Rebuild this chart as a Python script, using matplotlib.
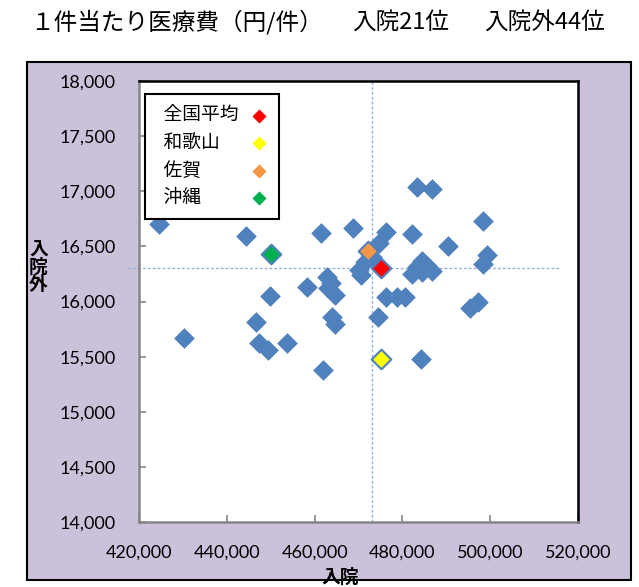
import matplotlib
matplotlib.use("Agg")
import matplotlib.pyplot as plt
from matplotlib.patches import Rectangle
from matplotlib.ticker import FuncFormatter

# colours (Excel 2007 palette)
blue = '#4F81BD'
purple_bg = '#CCC1DA'
avg_line = '#95B3D7'

# 1件当たり医療費: x = 入院, y = 入院外 (円/件), 47 prefectures
nyuin = [424600, 430250, 444400, 450100, 449850, 446650, 447350, 449400,
         453700, 458250, 461450, 461900, 462800, 463050, 464650, 463950,
         464650, 468750, 470100, 470550, 472150, 473050, 474650, 476250,
         474450, 475100, 476250, 478750, 480600, 482200, 482200, 483300,
         484250, 484450, 484450, 486750, 486750, 490400, 495400, 497200,
         498350, 499250, 498350, 483300, 485600, 463750, 471500]
gairai = [16700, 15670, 16590, 16430, 16050, 15810, 15620, 15560,
          15620, 16130, 16620, 15380, 16220, 16120, 16060, 15860,
          15800, 16670, 16290, 16240, 16460, 16400, 16530, 16630,
          15860, 15480, 16040, 16040, 16040, 16610, 16250, 17040,
          15480, 16370, 16270, 17020, 16280, 16500, 15940, 16000,
          16730, 16420, 16340, 16310, 16320, 16170, 16360]

# highlighted points
hl_names = ['全国平均', '和歌山', '佐賀', '沖縄']
hl_x = [475100, 475100, 472150, 450100]
hl_y = [16300, 15480, 16460, 16430]
hl_colors = ['#FF0000', '#FFFF00', '#F79646', '#00B050']

# average reference lines
avg_x = 473000
avg_y = 16300

xticks = [420000, 440000, 460000, 480000, 500000, 520000]
yticks = [14000, 14500, 15000, 15500, 16000, 16500, 17000, 17500, 18000]

title_parts = ['１件当たり医療費（円/件）', '入院21位', '入院外44位']
title_x = [0.047, 0.551, 0.757]

jp = 'Noto Sans CJK JP'
num = 'Lato'

fig = plt.figure(figsize=(6.39, 5.87), dpi=100)

# lavender chart area with black frame
bg = Rectangle((0.0423, 0.012), 0.945, 0.882, transform=fig.transFigure,
               facecolor=purple_bg, edgecolor='black', linewidth=1.5, zorder=-10)
fig.add_artist(bg)

ax = fig.add_axes([0.2175, 0.1107, 0.687, 0.7513])
ax.set_zorder(1)
ax.set_facecolor('white')
ax.set_xlim(420000, 520000)
ax.set_ylim(14000, 18000)
ax.set_xticks(xticks)
ax.set_yticks(yticks)
fmt = FuncFormatter(lambda v, p: f'{int(v):,}')
ax.xaxis.set_major_formatter(fmt)
ax.yaxis.set_major_formatter(fmt)
ax.tick_params(direction='in', length=5, width=1.2, color='#868686')
ax.tick_params(axis='y', pad=17)
ax.tick_params(axis='x', pad=16)
for lab in ax.get_xticklabels() + ax.get_yticklabels():
    lab.set_fontfamily(num)
    lab.set_fontsize(13)
ax.spines['left'].set_color('#868686')
ax.spines['bottom'].set_color('#868686')
for s in ['left', 'bottom', 'top', 'right']:
    ax.spines[s].set_linewidth(1.8)
ax.spines['top'].set_color('black')
ax.spines['right'].set_color('black')

# average lines
ax.plot([avg_x, avg_x], [14000, 18000], color=avg_line, lw=1, ls=(0, (2, 1.5)), zorder=1)
ax.plot([417500, 515700], [avg_y, avg_y], color=avg_line, lw=1, ls=(0, (2, 1.5)),
        zorder=1, clip_on=False)

ax.scatter(nyuin, gairai, marker='D', s=100, color=blue, edgecolors=blue,
           linewidths=0.5, zorder=3)

# pad labels to equal width so they line up on the left
handles = []
for name, x, y, c in zip(hl_names, hl_x, hl_y, hl_colors):
    lab = '  ' + name + '\u3000' * (4 - len(name))
    h = ax.scatter([x], [y], marker='D', s=100, color=c, edgecolors=blue,
                   linewidths=1.5, zorder=4, label=lab)
    handles.append(h)

leg = ax.legend(handles=handles, loc='upper left', bbox_to_anchor=(0.014, 0.97),
                borderaxespad=0, markerfirst=False, markerscale=0.72,
                fancybox=False, framealpha=1, edgecolor='black',
                prop={'family': jp, 'size': 13.5}, labelspacing=0.35,
                handletextpad=0.5, borderpad=0.55, handlelength=1.1)
leg.get_frame().set_linewidth(1.5)
for h in leg.legend_handles:
    h.set_linewidths(0)

# axis titles
fig.text(0.060, 0.545, '入\n院\n外', family=jp, fontsize=13.5, fontweight='bold',
         ha='center', va='center', linespacing=0.92)
fig.text(0.532, 0.017, '入院', family=jp, fontsize=13.5, fontweight='bold',
         ha='center', va='center')

# title
for t, x in zip(title_parts, title_x):
    fig.text(x, 0.963, t, family=jp, fontsize=17, ha='left', va='center')

fig.savefig('out.png', dpi=100)
